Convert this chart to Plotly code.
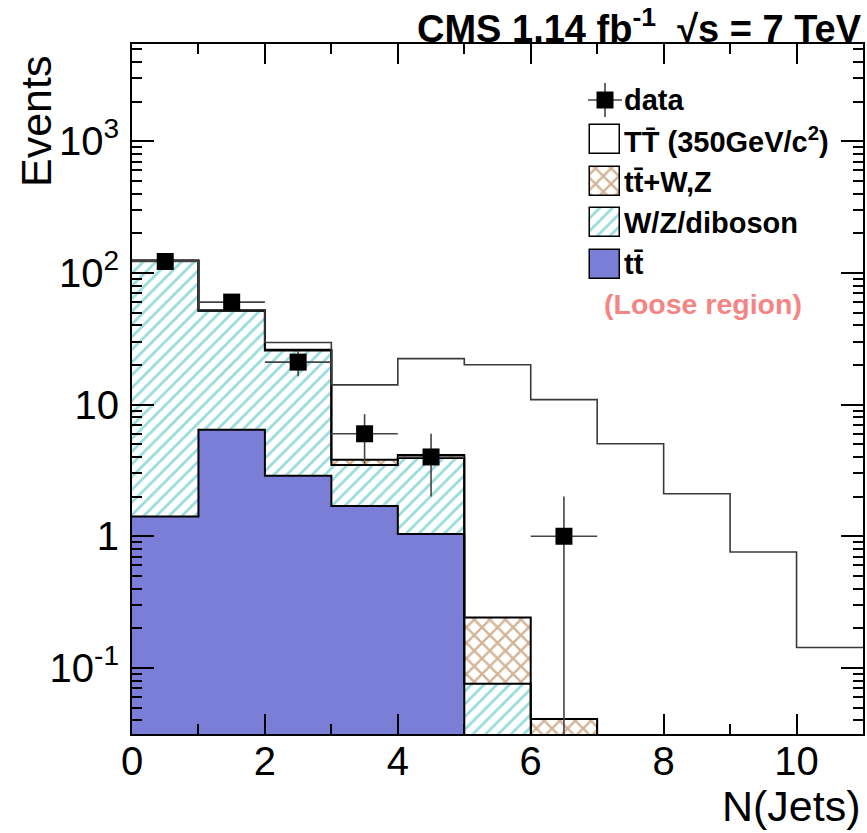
import numpy as np
import plotly.graph_objects as go

# ---------------- data ----------------
bin_edges = list(range(12))                      # N(Jets) bin edges 0..11
bin_centers = [i + 0.5 for i in range(11)]
tt_vals = [1.41, 6.44, 2.88, 1.70, 1.04, 0, 0, 0, 0, 0, 0]                 # ttbar
wz_vals = [122.4, 45.1, 22.8, 1.77, 2.88, 0.076, 0, 0, 0, 0, 0]            # W/Z/diboson
ttv_vals = [0.15, 0.3, 0.4, 0.34, 0.22, 0.166, 0.041, 0, 0, 0, 0]          # ttbar+W,Z
sig_vals = [0.3, 0.6, 3.5, 10.3, 18.2, 19.8, 10.86, 5.04, 2.10, 0.76, 0.143]  # TTbar 350
data_vals = [122, 60, 21, 6, 4, 0, 1, 0, 0, 0, 0]

x_tick_vals = [0, 2, 4, 6, 8, 10]
x_minor_vals = [1, 3, 5, 7, 9]
y_tick_vals = [0.1, 1, 10, 100, 1000]
y_tick_text = ["10<sup>-1</sup>", "1", "10", "10<sup>2</sup>", "10<sup>3</sup>"]

# ---------------- style ----------------
W, H = 867, 833
L, R, T, B = 132, 4, 44, 99
PW, PH = W - L - R, H - T - B
FONT = "Liberation Sans, Arial, Helvetica, sans-serif"
BLUE = "#7a7ed6"
CYAN = "#2fb7ba"
BROWN = "#a8692f"
SALMON = "#f38585"
FLOOR = 1e-4


def px(x):
    return (x - L) / PW


def py(y):
    return (H - B - y) / PH


cum_tt = np.array(tt_vals, dtype=float)
cum_wz = cum_tt + np.array(wz_vals)
cum_ttv = cum_wz + np.array(ttv_vals)
cum_sig = cum_ttv + np.array(sig_vals)

fig = go.Figure()

wz_pattern = dict(shape="/", fgcolor=CYAN, bgcolor="white", size=9, solidity=0.3, fillmode="overlay")
ttv_pattern = dict(shape="x", fgcolor=BROWN, bgcolor="white", size=11, solidity=0.4, fillmode="overlay")

# filled stack
fig.add_bar(x=bin_centers, y=tt_vals, width=1, marker=dict(color=BLUE, line_width=0))
fig.add_bar(x=bin_centers, y=wz_vals, base=cum_tt, width=1,
            marker=dict(color="white", line_width=0, pattern=wz_pattern))
fig.add_bar(x=bin_centers, y=ttv_vals, base=cum_wz, width=1,
            marker=dict(color="white", line_width=0, pattern=ttv_pattern))


def step(c):
    y = [v if v > 0 else FLOOR for v in c]
    return bin_edges, y + [y[-1]]


# outlines of the stack
for c in (cum_tt, cum_wz, cum_ttv):
    sx, sy = step(c)
    fig.add_scatter(x=sx, y=sy, mode="lines", line=dict(color="black", width=2, shape="hv"))

# signal outline
sx, sy = step(cum_sig)
fig.add_scatter(x=sx, y=sy, mode="lines", line=dict(color="#3a3a3a", width=1.6, shape="hv"))

# data points
dx = [c for c, n in zip(bin_centers, data_vals) if n > 0]
dy = [n for n in data_vals if n > 0]
err = [np.sqrt(n) for n in dy]
err_minus = [e if e < n else n * (1 - 1e-7) for e, n in zip(err, dy)]
fig.add_scatter(x=dx, y=dy, mode="markers",
                marker=dict(symbol="square", size=17, color="black"),
                error_y=dict(type="data", array=err, arrayminus=err_minus, color="#444", thickness=1.6, width=0),
                error_x=dict(type="constant", value=0.5, color="#444", thickness=1.6, width=0))

# ---------------- legend (drawn in a hidden helper axis in pixel units) ----------------
leg_boxes = [
    (125, dict(color="white", line=dict(color="black", width=1.5))),
    (167, dict(color="white", line=dict(color="black", width=1.5), pattern=ttv_pattern)),
    (208, dict(color="white", line=dict(color="black", width=1.5), pattern=wz_pattern)),
    (250, dict(color=BLUE, line=dict(color="black", width=1.5))),
]
for base, mk in leg_boxes:
    fig.add_bar(x=[605], y=[28.5], base=[base], width=[30], marker=mk, xaxis="x2", yaxis="y2")
fig.add_scatter(x=[605], y=[100], mode="markers", xaxis="x2", yaxis="y2",
                marker=dict(symbol="square", size=17, color="black"),
                error_y=dict(type="constant", value=17, color="#444", thickness=1.6, width=0),
                error_x=dict(type="constant", value=17, color="#444", thickness=1.6, width=0))

leg_font = dict(family=FONT, size=29, color="black")
leg_items = [
    ("data", 100),
    ("TT\u0304 (350GeV/c<sup>2</sup>)", 140),
    ("tt\u0304+W,Z", 182),
    ("W/Z/diboson", 223),
    ("tt\u0304", 264),
]
annotations = []
for txt, yy in leg_items:
    annotations.append(dict(x=px(622), y=py(yy), xref="paper", yref="paper", xanchor="left",
                            yanchor="middle", text="<b>" + txt + "</b>", showarrow=False, font=leg_font))
annotations.append(dict(x=px(703), y=py(304), xref="paper", yref="paper", xanchor="center",
                        yanchor="middle", text="<b>(Loose region)</b>", showarrow=False,
                        font=dict(family=FONT, size=28.5, color=SALMON)))
# title
annotations.append(dict(x=px(864), y=py(26), xref="paper", yref="paper", xanchor="right",
                        yanchor="middle", showarrow=False,
                        text="<b>CMS 1.14 fb<sup>-1</sup>\u00a0\u00a0\u221As = 7 TeV</b>",
                        font=dict(family=FONT, size=38, color="black")))
# axis titles
annotations.append(dict(x=px(863), y=py(806), xref="paper", yref="paper", xanchor="right",
                        yanchor="middle", showarrow=False, text="N(Jets)",
                        font=dict(family=FONT, size=43, color="black")))
annotations.append(dict(x=px(36), y=py(122), xref="paper", yref="paper", xanchor="center",
                        yanchor="middle", showarrow=False, text="Events", textangle=-90,
                        font=dict(family=FONT, size=43, color="black")))

y_minor = [k * 10.0 ** d for d in range(-2, 4) for k in range(2, 10) if 0.031 <= k * 10.0 ** d <= 5400]

fig.update_layout(
    width=W, height=H,
    margin=dict(l=L, r=R, t=T, b=B, autoexpand=False),
    paper_bgcolor="white", plot_bgcolor="white",
    barmode="overlay", bargap=0,
    showlegend=False,
    font=dict(family=FONT, color="black"),
    annotations=annotations,
    xaxis=dict(range=[0, 11], tickmode="array", tickvals=x_tick_vals, ticks="inside", ticklen=20,
               tickwidth=1.5, tickcolor="black", showline=True, linewidth=2, linecolor="black",
               mirror="ticks", showgrid=False, zeroline=False, ticklabelstandoff=-9,
               tickfont=dict(family=FONT, size=40, color="black"),
               minor=dict(tickmode="array", tickvals=x_minor_vals, ticks="inside", ticklen=10,
                          tickwidth=1.5, tickcolor="black", showgrid=False)),
    yaxis=dict(type="log", range=[np.log10(0.0315), np.log10(5470)], tickmode="array",
               tickvals=y_tick_vals, ticktext=y_tick_text, ticks="inside", ticklen=22,
               tickwidth=1.5, tickcolor="black", showline=True, linewidth=2, linecolor="black",
               mirror="ticks", showgrid=False, zeroline=False, ticklabelstandoff=3,
               tickfont=dict(family=FONT, size=40, color="black"),
               minor=dict(tickmode="array", tickvals=y_minor, ticks="inside", ticklen=10,
                          tickwidth=1.5, tickcolor="black", showgrid=False)),
    xaxis2=dict(domain=[px(580), px(630)], range=[580, 630], visible=False, anchor="y2",
                fixedrange=True),
    yaxis2=dict(domain=[py(290), py(75)], range=[290, 75], visible=False, anchor="x2",
                fixedrange=True),
)

fig.write_html("out.html", config={"displayModeBar": False},
               post_script="document.body.style.margin='0px'; document.body.style.overflow='hidden';")
